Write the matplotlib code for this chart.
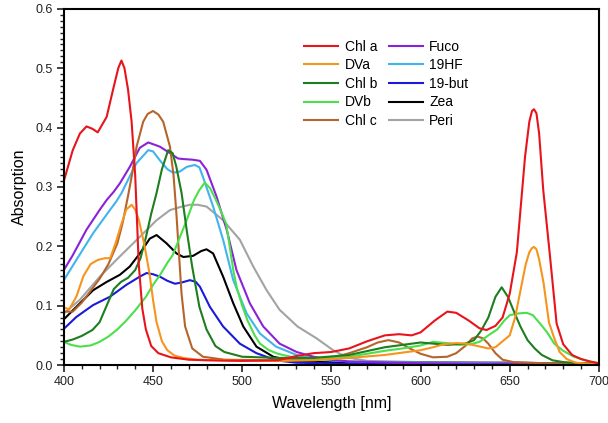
import matplotlib
matplotlib.use("Agg")
import matplotlib.pyplot as plt
from matplotlib.ticker import MultipleLocator

plt.rcParams['font.family'] = ['Liberation Sans', 'DejaVu Sans']

# ---- data ----
chla_wl = [400, 405, 409, 412.7, 416, 419, 424, 427.6, 430.5, 432.3, 434, 436, 438, 440, 442, 444, 446, 449, 453, 460,
           470, 480, 500, 520, 530, 540, 550, 560, 570, 580, 588, 595, 600, 608, 615, 620, 627, 633, 637, 642, 646,
           650, 654, 658.6, 661, 662.5, 663.6, 665, 666.5, 668.8, 672.6, 676.3, 680, 685, 690, 695, 700]
chla = [0.31, 0.362, 0.39, 0.402, 0.398, 0.392, 0.418, 0.464, 0.50, 0.513, 0.50, 0.464, 0.41, 0.32, 0.17, 0.095, 0.06,
        0.032, 0.02, 0.013, 0.009, 0.008, 0.007, 0.008, 0.015, 0.02, 0.022, 0.028, 0.04, 0.05, 0.052, 0.05, 0.055,
        0.075, 0.09, 0.088, 0.075, 0.062, 0.059, 0.066, 0.08, 0.12, 0.19, 0.351, 0.41, 0.428, 0.431, 0.424, 0.39,
        0.295, 0.183, 0.07, 0.035, 0.017, 0.010, 0.006, 0.003]

dva_wl = [400, 403, 407, 411, 415, 419, 423, 426, 429, 432, 435, 438, 440, 442, 445, 448, 450, 452, 455, 458, 462, 467,
          475, 500, 520, 540, 560, 580, 600, 607, 613, 620, 626, 632, 638, 642, 646, 650, 653, 656, 659, 661, 662.5,
          663.6, 665, 666.5, 669, 672, 675, 678, 682, 687, 695, 700]
dva = [0.097, 0.094, 0.115, 0.15, 0.17, 0.177, 0.18, 0.18, 0.205, 0.235, 0.262, 0.27, 0.262, 0.245, 0.205, 0.155, 0.11,
       0.072, 0.04, 0.025, 0.016, 0.012, 0.009, 0.007, 0.007, 0.008, 0.012, 0.017, 0.025, 0.03, 0.035, 0.037, 0.036,
       0.032, 0.028, 0.03, 0.04, 0.05, 0.08, 0.125, 0.17, 0.19, 0.197, 0.199, 0.195, 0.178, 0.138, 0.072, 0.045,
       0.022, 0.010, 0.004, 0.002, 0.001]

chlb_wl = [400, 405, 410, 416, 420, 424, 428, 432, 436, 440, 443, 446, 449, 452, 455, 458.5, 461, 463, 466, 469, 472,
           476, 480, 485, 490, 500, 520, 540, 560, 580, 600, 615, 625, 630, 634, 638, 642, 645.5, 649, 652, 656, 660,
           664, 668, 674, 680, 690, 700]
chlb = [0.039, 0.043, 0.049, 0.059, 0.072, 0.100, 0.128, 0.140, 0.147, 0.160, 0.180, 0.215, 0.255, 0.29, 0.33, 0.362,
        0.357, 0.335, 0.29, 0.225, 0.165, 0.098, 0.060, 0.032, 0.022, 0.014, 0.012, 0.012, 0.017, 0.030, 0.038,
        0.034, 0.036, 0.042, 0.058, 0.08, 0.115, 0.131, 0.115, 0.093, 0.065, 0.042, 0.028, 0.017, 0.008, 0.005,
        0.003, 0.002]

dvb_wl = [400, 404, 409, 415, 420, 425, 430, 435, 440, 446, 450, 454, 458, 461, 465, 469, 473, 476, 479, 482, 485, 488,
          491, 493, 495, 497, 500, 503, 507, 510, 515, 520, 530, 540, 560, 580, 590, 600, 607, 615, 622, 628, 633,
          638, 643, 647, 650, 655, 659.5, 663, 667, 671, 675, 680, 686, 695, 700]
dvb = [0.039, 0.034, 0.031, 0.033, 0.039, 0.048, 0.060, 0.075, 0.092, 0.115, 0.135, 0.152, 0.172, 0.185, 0.215, 0.245,
       0.278, 0.295, 0.307, 0.298, 0.28, 0.26, 0.238, 0.2, 0.16, 0.13, 0.1, 0.075, 0.05, 0.036, 0.025, 0.019, 0.012,
       0.01, 0.014, 0.024, 0.028, 0.033, 0.039, 0.037, 0.034, 0.035, 0.039, 0.05, 0.06, 0.075, 0.084, 0.087, 0.088,
       0.084, 0.070, 0.055, 0.036, 0.024, 0.014, 0.006, 0.003]

chlc_wl = [400, 405, 410, 415, 420, 425, 430, 433, 436, 438, 440.8, 444.5, 447, 450, 453, 455.7, 459.5, 461.5, 463,
           464.5, 466, 468, 472, 478, 490, 520, 550, 560, 570, 576, 582, 588, 594, 600, 607, 615, 620, 625, 629, 632,
           635, 638, 642, 646, 652, 670, 700]
chlc = [0.09, 0.09, 0.105, 0.125, 0.145, 0.17, 0.205, 0.24, 0.285, 0.317, 0.368, 0.41, 0.423, 0.428, 0.422, 0.41,
        0.368, 0.32, 0.26, 0.19, 0.12, 0.065, 0.028, 0.014, 0.009, 0.008, 0.012, 0.02, 0.03, 0.038, 0.042, 0.038,
        0.028, 0.019, 0.013, 0.014, 0.02, 0.032, 0.045, 0.048, 0.045, 0.036, 0.02, 0.009, 0.005, 0.003, 0.002]

fuco_wl = [400, 405, 412.7, 420, 424, 428, 431.4, 437, 442.6, 447.3, 453.8, 459.5, 464, 467, 472, 476.3, 480, 485.6,
           491.3, 496.8, 504.3, 511.8, 521, 530.5, 540, 550, 560, 600, 650, 700]
fuco = [0.16, 0.185, 0.228, 0.261, 0.278, 0.292, 0.306, 0.334, 0.366, 0.375, 0.368, 0.357, 0.348, 0.347, 0.346,
        0.344, 0.329, 0.284, 0.228, 0.160, 0.104, 0.065, 0.036, 0.022, 0.014, 0.009, 0.006, 0.003, 0.002, 0.001]

hf19_wl = [400, 407, 416.4, 425.8, 429.5, 432.4, 435, 440.7, 447.3, 450, 453.8, 458, 461.3, 465, 469, 473.5, 476,
           478, 483.7, 489.3, 495, 502.5, 510, 519, 530.5, 540, 550, 560, 600, 700]
hf19 = [0.143, 0.177, 0.222, 0.261, 0.276, 0.29, 0.306, 0.34, 0.362, 0.36, 0.345, 0.33, 0.324, 0.326, 0.334, 0.337,
        0.333, 0.317, 0.267, 0.211, 0.143, 0.087, 0.053, 0.031, 0.017, 0.011, 0.008, 0.006, 0.004, 0.002]

but19_wl = [400, 407, 416.4, 425.8, 435, 442.6, 446.4, 450, 453.8, 458, 462.3, 466, 470.7, 474, 476.3, 481.9, 489.3,
            498.7, 508, 519, 530, 560, 600, 650, 700]
but19 = [0.061, 0.081, 0.101, 0.115, 0.135, 0.149, 0.155, 0.153, 0.149, 0.142, 0.137, 0.139, 0.143, 0.14, 0.132,
         0.098, 0.065, 0.036, 0.020, 0.008, 0.004, 0.002, 0.001, 0.001, 0.0]

zea_wl = [400, 407, 416.4, 424, 431.4, 437, 442.6, 448.2, 452, 457.6, 463.2, 467, 472.5, 477, 480, 483.7, 489.3, 495,
          500.6, 508, 517.4, 530, 560, 600, 650, 700]
zea = [0.077, 0.098, 0.126, 0.140, 0.152, 0.166, 0.188, 0.213, 0.219, 0.205, 0.188, 0.182, 0.184, 0.192, 0.195,
       0.188, 0.149, 0.104, 0.065, 0.031, 0.014, 0.006, 0.004, 0.004, 0.004, 0.002]

peri_wl = [400, 409, 420.2, 431.4, 442.6, 452, 459.5, 465, 470.7, 475, 480, 489.3, 498.7, 506.2, 513.7, 521, 531,
           541.7, 551, 558.6, 570, 600, 650, 700]
peri = [0.087, 0.110, 0.149, 0.183, 0.216, 0.244, 0.261, 0.266, 0.270, 0.270, 0.267, 0.244, 0.211, 0.166, 0.126,
        0.093, 0.065, 0.045, 0.025, 0.013, 0.007, 0.005, 0.003, 0.002]

labels = ['Chl a', 'DVa', 'Chl b', 'DVb', 'Chl c', 'Fuco', '19HF', '19-but', 'Zea', 'Peri']
colors = ['#e8141c', '#f7941d', '#1e7d1e', '#4be04b', '#b5652b',
          '#8a22d8', '#41b4ee', '#1a1ad8', '#000000', '#a3a3a3']

series = [(chla_wl, chla), (dva_wl, dva), (chlb_wl, chlb), (dvb_wl, dvb), (chlc_wl, chlc),
          (fuco_wl, fuco), (hf19_wl, hf19), (but19_wl, but19), (zea_wl, zea), (peri_wl, peri)]

fig = plt.figure(figsize=(6.08, 4.23), dpi=100)
ax = fig.add_axes([0.105, 0.137, 0.880, 0.842])

order = [9, 8, 7, 6, 5, 4, 3, 2, 1, 0]
handles = [None] * len(series)
for i in order:
    wl, val = series[i]
    h, = ax.plot(wl, val, color=colors[i], lw=1.5, label=labels[i],
                 solid_joinstyle='round')
    handles[i] = h

ax.set_xlim(400, 700)
ax.set_ylim(0, 0.6)
ax.xaxis.set_major_locator(MultipleLocator(50))
ax.xaxis.set_minor_locator(MultipleLocator(10))
ax.yaxis.set_major_locator(MultipleLocator(0.1))
ax.yaxis.set_minor_locator(MultipleLocator(0.01))
ax.yaxis.set_major_formatter(matplotlib.ticker.FormatStrFormatter('%.1f'))
ax.tick_params(which='major', direction='out', length=5, width=1.2, labelsize=9, colors='#222222', pad=3)
ax.tick_params(which='minor', direction='out', length=3, width=1.0, colors='#222222')
for s in ax.spines.values():
    s.set_linewidth(1.5)

ax.set_xlabel('Wavelength [nm]', fontsize=11.5, labelpad=6)
ax.set_ylabel('Absorption', fontsize=11.5, labelpad=6)

leg = ax.legend(handles=handles, labels=labels, ncol=2, frameon=False, fontsize=10,
                loc='upper left', bbox_to_anchor=(0.439, 0.929), handlelength=2.45,
                handletextpad=0.45, labelspacing=0.33, columnspacing=0.85, borderaxespad=0)

fig.savefig('out.png', dpi=100)
